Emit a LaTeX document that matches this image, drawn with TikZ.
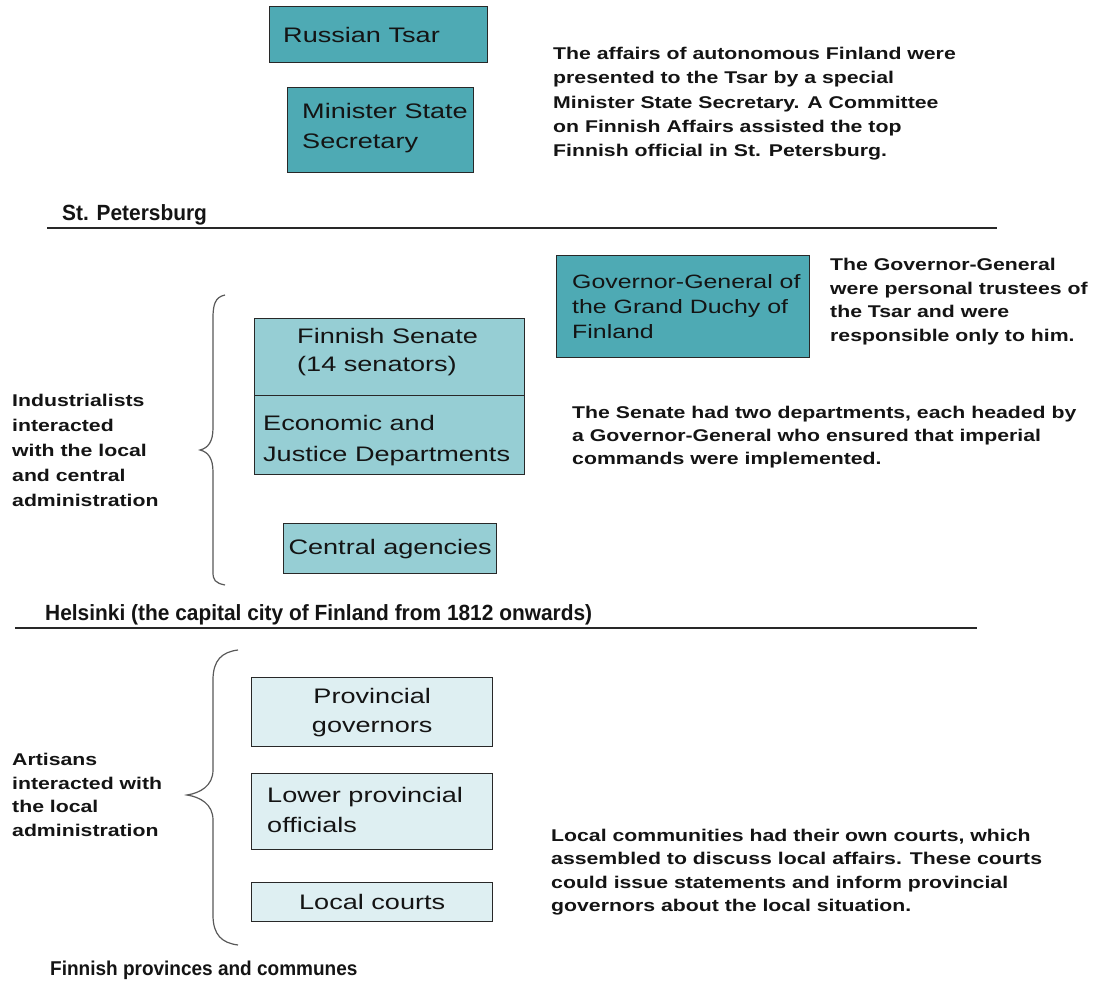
\documentclass[tikz,border=0pt]{standalone}
\usepackage{fontspec}
\newfontfamily\boxf[FakeStretch=1.29]{Liberation Sans}
\newfontfamily\sidef[FakeStretch=1.25]{Liberation Sans Bold}
\newfontfamily\labf[FakeStretch=0.95]{Liberation Sans Bold}
\definecolor{tealdark}{RGB}{78,170,180}
\definecolor{teallight}{RGB}{150,206,212}
\definecolor{tealpale}{RGB}{222,239,242}
\definecolor{edge}{RGB}{40,40,40}
\definecolor{ink}{RGB}{20,20,20}
\tikzset{
  orgbox/.style={draw=edge, line width=1.4pt, anchor=north west, text=ink, inner sep=0pt},
  boxlabel/.style={anchor=west, inner sep=0pt, align=left, text=ink, font=\boxf\fontsize{21}{29}\selectfont},
  sidenote/.style={anchor=north west, inner sep=0pt, align=left, text=ink, font=\sidef\fontsize{17}{23.5}\selectfont},
  citylabel/.style={anchor=base west, inner sep=0pt, text=ink, font=\labf\fontsize{22}{24}\selectfont},
  divider/.style={draw=edge, line width=1.6pt},
  bracket/.style={draw=black!65, line width=1.2pt}
}
\begin{document}
\begin{tikzpicture}[x=1pt,y=-1pt]
\useasboundingbox[fill=white] (0,0) rectangle (1096,981);

% St. Petersburg level
\node[orgbox, fill=tealdark, minimum width=218pt, minimum height=56pt] (tsar) at (269,6) {};
\node[boxlabel] (tsartext) at ([xshift=14pt]tsar.west) {Russian Tsar};
\node[orgbox, fill=tealdark, minimum width=186pt, minimum height=85pt] (minister) at (287,87) {};
\node[boxlabel, font=\boxf\fontsize{21}{30}\selectfont] (ministertext) at ([xshift=15pt,yshift=2pt]minister.west) {Minister State\\Secretary};
\node[sidenote, font=\sidef\fontsize{17}{24.3}\selectfont] (affairs) at (553,47) {The affairs of autonomous Finland were\\presented to the Tsar by a special\\Minister State Secretary. A Committee\\on Finnish Affairs assisted the top\\Finnish official in St. Petersburg.};

\node[citylabel] (stp) at (62,221) {St. Petersburg};
\coordinate (stpL) at (47,228);
\coordinate (stpR) at (997,228);
\draw[divider] (stpL) -- (stpR);

% Helsinki level
\node[orgbox, fill=tealdark, minimum width=253pt, minimum height=102pt] (gg) at (556,255) {};
\node[boxlabel, font=\boxf\fontsize{19.3}{25}\selectfont] (ggtext) at ([xshift=16pt]gg.west) {Governor-General of\\the Grand Duchy of\\Finland};
\node[sidenote] (ggnote) at (830,258) {The Governor-General\\were personal trustees of\\the Tsar and were\\responsible only to him.};

\node[orgbox, fill=teallight, minimum width=270pt, minimum height=77pt] (senate) at (254,318) {};
\node[boxlabel, font=\boxf\fontsize{21}{28}\selectfont] (senatetext) at ([xshift=43pt,yshift=5pt]senate.west) {Finnish Senate\\(14 senators)};
\node[orgbox, fill=teallight, minimum width=270pt, minimum height=79pt] (econ) at (254,395) {};
\node[boxlabel, font=\boxf\fontsize{21}{31}\selectfont] (econtext) at ([xshift=9pt,yshift=-5pt]econ.west) {Economic and\\Justice Departments};
\node[orgbox, fill=teallight, minimum width=213pt, minimum height=50pt, font=\boxf\fontsize{21}{29}\selectfont] (central) at (283,523) {Central agencies};
\node[sidenote, font=\sidef\fontsize{17}{23}\selectfont] (senatenote) at (572,406) {The Senate had two departments, each headed by\\a Governor-General who ensured that imperial\\commands were implemented.};

\node[sidenote, font=\sidef\fontsize{17}{25}\selectfont] (industry) at (12,394) {Industrialists\\interacted\\with the local\\and central\\administration};
\coordinate (b1top) at (225,295);
\coordinate (b1tip) at (200,450);
\coordinate (b1bot) at (225,585);
\draw[bracket] (b1top) .. controls (215,297) and (213,305) .. (213,318) -- (213,428) .. controls (213,442) and (208,448) .. (b1tip) .. controls (208,452) and (213,458) .. (213,472) -- (213,572) .. controls (213,580) and (215,583) .. (b1bot);

\node[citylabel] (hel) at (45,620) {Helsinki (the capital city of Finland from 1812 onwards)};
\coordinate (helL) at (15,628);
\coordinate (helR) at (977,628);
\draw[divider] (helL) -- (helR);

% Provinces level
\node[orgbox, fill=tealpale, minimum width=241pt, minimum height=69pt, align=center, font=\boxf\fontsize{21}{29}\selectfont] (prov) at (251,677) {Provincial\\governors};
\node[orgbox, fill=tealpale, minimum width=241pt, minimum height=76pt] (lower) at (251,773) {};
\node[boxlabel, font=\boxf\fontsize{21}{30}\selectfont] (lowertext) at ([xshift=16pt,yshift=2pt]lower.west) {Lower provincial\\officials};
\node[orgbox, fill=tealpale, minimum width=241pt, minimum height=39pt, font=\boxf\fontsize{21}{29}\selectfont] (courts) at (251,882) {Local courts};

\node[sidenote] (artisans) at (12,753) {Artisans\\interacted with\\the local\\administration};
\coordinate (b2top) at (238,650);
\coordinate (b2tip) at (187,795);
\coordinate (b2bot) at (238,945);
\draw[bracket] (b2top) .. controls (222,652) and (213,660) .. (213,680) -- (213,770) .. controls (213,786) and (200,793) .. (b2tip) .. controls (200,797) and (213,804) .. (213,820) -- (213,915) .. controls (213,935) and (222,943) .. (b2bot);

\node[sidenote, font=\sidef\fontsize{17}{23.3}\selectfont] (localnote) at (551,829) {Local communities had their own courts, which\\assembled to discuss local affairs. These courts\\could issue statements and inform provincial\\governors about the local situation.};

\node[citylabel, font=\labf\fontsize{20}{22}\selectfont] (provlabel) at (50,975) {Finnish provinces and communes};
\end{tikzpicture}
\end{document}
